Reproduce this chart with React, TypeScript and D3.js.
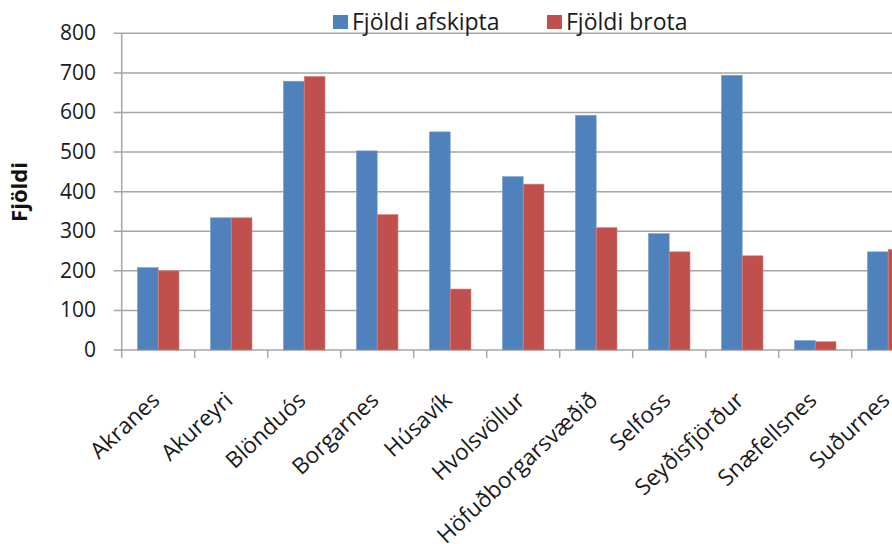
import React, { useEffect, useRef } from "react";
import * as d3 from "d3";

const categories = [
  "Akranes",
  "Akureyri",
  "Blönduós",
  "Borgarnes",
  "Húsavík",
  "Hvolsvöllur",
  "Höfuðborgarsvæðið",
  "Selfoss",
  "Seyðisfjörður",
  "Snæfellsnes",
  "Suðurnes",
];
const afskipta = [208, 334, 679, 503, 551, 438, 593, 294, 694, 24, 248];
const brota = [200, 334, 691, 342, 154, 419, 309, 248, 238, 21, 254];
const seriesNames = ["Fjöldi afskipta", "Fjöldi brota"];
const seriesColors = ["#4F81BD", "#C0504D"];
const yTicks = [0, 100, 200, 300, 400, 500, 600, 700, 800];
const yTitle = "Fjöldi";

const W = 892;
const H = 544;
const FONT = "'Open Sans', 'DejaVu Sans', sans-serif";

export default function App() {
  const ref = useRef<SVGSVGElement>(null);
  useEffect(() => {
    const svg = d3.select(ref.current);
    svg.selectAll("*").remove();
    svg.append("rect").attr("width", W).attr("height", H).attr("fill", "#fff");

    const x0 = 121.7;
    const step = 73;
    const x = d3
      .scaleBand<string>()
      .domain(categories)
      .range([x0, x0 + step * categories.length])
      .paddingInner(0)
      .paddingOuter(0);
    const y = d3.scaleLinear().domain([0, 800]).range([350, 33.3]);
    const inner = d3.scaleBand<number>().domain([0, 1]).range([0, 41.6]);
    const groupOff = (step - 41.6) / 2;

    // gridlines
    svg
      .append("g")
      .selectAll("line")
      .data(yTicks)
      .join("line")
      .attr("x1", x0 - 8)
      .attr("x2", W + 40)
      .attr("y1", (d) => y(d))
      .attr("y2", (d) => y(d))
      .attr("stroke", "#A6A6A6")
      .attr("stroke-width", 1.5);

    // y-axis line
    svg
      .append("line")
      .attr("x1", x0)
      .attr("x2", x0)
      .attr("y1", y(800))
      .attr("y2", y(0))
      .attr("stroke", "#A6A6A6")
      .attr("stroke-width", 1.5);

    // x ticks
    svg
      .append("g")
      .selectAll("line")
      .data(d3.range(categories.length + 1))
      .join("line")
      .attr("x1", (i) => x0 + i * step)
      .attr("x2", (i) => x0 + i * step)
      .attr("y1", y(0))
      .attr("y2", y(0) + 8)
      .attr("stroke", "#A6A6A6")
      .attr("stroke-width", 1.5);

    // y tick labels
    svg
      .append("g")
      .selectAll("text")
      .data(yTicks)
      .join("text")
      .attr("x", 96)
      .attr("y", (d) => y(d) + 7)
      .attr("text-anchor", "end")
      .attr("font-family", FONT)
      .attr("font-size", 21)
      .attr("fill", "#1a1a1a")
      .text((d) => d);

    // bars
    const series = [afskipta, brota];
    series.forEach((vals, si) => {
      svg
        .append("g")
        .selectAll("rect")
        .data(vals)
        .join("rect")
        .attr("x", (_, i) => (x(categories[i]) as number) + groupOff + (inner(si) as number))
        .attr("width", inner.bandwidth())
        .attr("y", (d) => y(d))
        .attr("height", (d) => y(0) - y(d))
        .attr("fill", seriesColors[si])
        .attr("stroke", si === 0 ? "#7FA3D1" : "#D98380")
        .attr("stroke-width", 0.6);
    });

    // x labels
    svg
      .append("g")
      .selectAll("text")
      .data(categories)
      .join("text")
      .attr("transform", (d) => {
        const cx = (x(d) as number) + step / 2 + 3;
        return `translate(${cx},${402}) rotate(-43)`;
      })
      .attr("text-anchor", "end")
      .attr("font-family", FONT)
      .attr("font-size", 22.5)
      .attr("fill", "#1a1a1a")
      .text((d) => d);

    // y title
    svg
      .append("text")
      .attr("transform", `translate(27,192) rotate(-90)`)
      .attr("text-anchor", "middle")
      .attr("font-family", FONT)
      .attr("font-size", 22)
      .attr("font-weight", "bold")
      .attr("fill", "#111")
      .text(yTitle);

    // legend
    const legX = [333, 547];
    seriesNames.forEach((name, i) => {
      svg
        .append("rect")
        .attr("x", legX[i])
        .attr("y", 15)
        .attr("width", 15)
        .attr("height", 14)
        .attr("fill", seriesColors[i]);
      svg
        .append("text")
        .attr("x", legX[i] + 19)
        .attr("y", 29.5)
        .attr("font-family", FONT)
        .attr("font-size", 23)
        .attr("fill", "#1a1a1a")
        .text(name);
    });
  }, []);
  return (
    <svg
      ref={ref}
      width={W}
      height={H}
      style={{ position: "absolute", left: 0, top: 0 }}
    />
  );
}
